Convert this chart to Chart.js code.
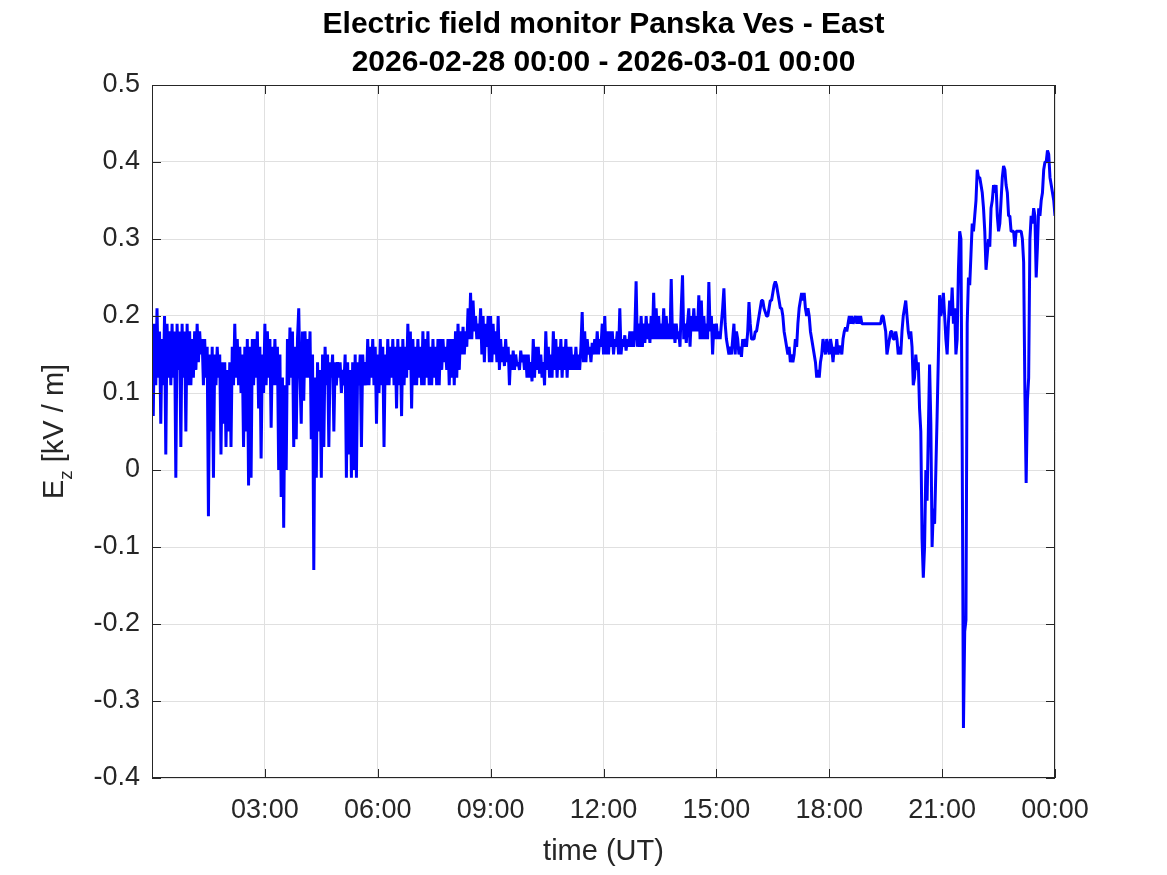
<!DOCTYPE html>
<html>
<head>
<meta charset="utf-8">
<title>Electric field monitor Panska Ves - East</title>
<script src="https://cdn.jsdelivr.net/npm/chart.js@4.4.1/dist/chart.umd.min.js"></script>
<style>
  html, body { margin: 0; padding: 0; background: #fff; }
  #chart { display: block; }
</style>
</head>
<body>
<canvas id="chart" width="1167" height="875"></canvas>
<script>
// one sample every 2 minutes, 2026-02-28 00:00 .. 2026-03-01 00:00 (UT)
const stepMinutes = 2;

// Ez [kV/m], one row per hour (30 samples)
const fieldValues = [
  0.17, 0.07, 0.19, 0.11, 0.21, 0.12, 0.18, 0.06, 0.17, 0.11, 0.20, 0.02, 0.19, 0.12, 0.18, 0.11, 0.19, 0.12, 0.18, -0.01, 0.19, 0.13, 0.18, 0.03, 0.19, 0.12, 0.18, 0.05, 0.19, 0.11,
  0.18, 0.11, 0.17, 0.12, 0.18, 0.13, 0.19, 0.14, 0.18, 0.15, 0.17, 0.11, 0.17, 0.12, 0.16, -0.06, 0.15, 0.05, 0.16, -0.01, 0.15, 0.11, 0.16, 0.12, 0.15, 0.02, 0.14, 0.06, 0.14, 0.03,
  0.13, 0.05, 0.14, 0.03, 0.16, 0.11, 0.19, 0.12, 0.17, 0.11, 0.16, 0.10, 0.15, 0.03, 0.16, 0.05, 0.17, -0.02, 0.16, -0.01, 0.17, 0.11, 0.17, 0.12, 0.18, 0.08, 0.16, 0.015, 0.15, 0.10,
  0.19, 0.11, 0.18, 0.12, 0.17, 0.055, 0.16, 0.11, 0.17, 0.11, 0.16, 0.00, 0.15, -0.035, 0.12, -0.075, 0.11, 0.00, 0.17, 0.11, 0.185, 0.12, 0.18, 0.03, 0.16, 0.04, 0.17, 0.21, 0.12, 0.06,
  0.18, 0.09, 0.18, 0.12, 0.17, 0.12, 0.18, 0.04, 0.15, -0.13, 0.12, -0.01, 0.14, 0.05, 0.13, -0.01, 0.15, 0.03, 0.16, 0.11, 0.15, 0.03, 0.14, 0.12, 0.15, 0.05, 0.14, 0.11, 0.14, 0.12,
  0.14, 0.10, 0.13, 0.11, 0.15, -0.01, 0.14, 0.02, 0.13, -0.01, 0.14, 0.00, 0.15, -0.01, 0.14, 0.11, 0.15, 0.03, 0.15, 0.11, 0.14, 0.11, 0.17, 0.11, 0.16, 0.12, 0.17, 0.11, 0.16, 0.06,
  0.15, 0.10, 0.17, 0.11, 0.16, 0.03, 0.15, 0.11, 0.17, 0.11, 0.16, 0.12, 0.17, 0.11, 0.16, 0.08, 0.17, 0.11, 0.16, 0.07, 0.17, 0.11, 0.16, 0.12, 0.19, 0.13, 0.18, 0.08, 0.17, 0.11,
  0.16, 0.11, 0.17, 0.12, 0.16, 0.11, 0.18, 0.11, 0.17, 0.12, 0.18, 0.11, 0.16, 0.11, 0.17, 0.12, 0.16, 0.11, 0.17, 0.11, 0.17, 0.13, 0.17, 0.14, 0.16, 0.13, 0.17, 0.11, 0.17, 0.12,
  0.17, 0.11, 0.18, 0.12, 0.19, 0.13, 0.18, 0.15, 0.186, 0.15, 0.18, 0.16, 0.21, 0.17, 0.23, 0.17, 0.22, 0.18, 0.20, 0.17, 0.19, 0.17, 0.21, 0.15, 0.20, 0.14, 0.19, 0.16, 0.20, 0.14,
  0.20, 0.14, 0.19, 0.15, 0.18, 0.14, 0.20, 0.13, 0.17, 0.14, 0.16, 0.135, 0.17, 0.14, 0.16, 0.11, 0.15, 0.13, 0.155, 0.13, 0.15, 0.135, 0.14, 0.13, 0.155, 0.14, 0.15, 0.13, 0.15, 0.12,
  0.15, 0.12, 0.14, 0.115, 0.17, 0.12, 0.16, 0.13, 0.16, 0.125, 0.15, 0.12, 0.14, 0.11, 0.18, 0.13, 0.16, 0.12, 0.15, 0.12, 0.18, 0.13, 0.17, 0.12, 0.16, 0.13, 0.17, 0.12, 0.16, 0.13,
  0.17, 0.12, 0.16, 0.13, 0.16, 0.13, 0.15, 0.13, 0.16, 0.13, 0.15, 0.13, 0.16, 0.205, 0.14, 0.18, 0.14, 0.17, 0.15, 0.16, 0.14, 0.165, 0.15, 0.17, 0.15, 0.18, 0.15, 0.17, 0.16, 0.19,
  0.15, 0.20, 0.15, 0.18, 0.15, 0.18, 0.16, 0.18, 0.15, 0.17, 0.16, 0.18, 0.15, 0.21, 0.15, 0.17, 0.16, 0.175, 0.155, 0.17, 0.16, 0.18, 0.16, 0.18, 0.16, 0.18, 0.245, 0.16, 0.19, 0.16,
  0.20, 0.16, 0.19, 0.165, 0.20, 0.17, 0.19, 0.165, 0.20, 0.17, 0.23, 0.17, 0.21, 0.17, 0.20, 0.17, 0.19, 0.17, 0.21, 0.17, 0.20, 0.17, 0.19, 0.17, 0.248, 0.17, 0.19, 0.165, 0.19, 0.17,
  0.18, 0.16, 0.21, 0.253, 0.17, 0.19, 0.165, 0.19, 0.21, 0.16, 0.20, 0.18, 0.21, 0.18, 0.20, 0.18, 0.227, 0.17, 0.22, 0.17, 0.20, 0.17, 0.19, 0.17, 0.244, 0.18, 0.20, 0.15, 0.19, 0.17,
  0.19, 0.17, 0.18, 0.17, 0.19, 0.21, 0.236, 0.19, 0.17, 0.16, 0.15, 0.16, 0.15, 0.17, 0.19, 0.15, 0.18, 0.17, 0.15, 0.16, 0.147, 0.17, 0.16, 0.17, 0.16, 0.18, 0.218, 0.19, 0.17, 0.17,
  0.17, 0.18, 0.18, 0.19, 0.20, 0.21, 0.22, 0.22, 0.21, 0.205, 0.20, 0.20, 0.21, 0.22, 0.22, 0.23, 0.24, 0.245, 0.24, 0.23, 0.22, 0.21, 0.21, 0.20, 0.18, 0.17, 0.16, 0.15, 0.16, 0.14,
  0.15, 0.14, 0.15, 0.17, 0.16, 0.19, 0.21, 0.22, 0.23, 0.22, 0.23, 0.21, 0.20, 0.21, 0.20, 0.18, 0.17, 0.16, 0.15, 0.14, 0.12, 0.13, 0.12, 0.14, 0.15, 0.17, 0.16, 0.15, 0.17, 0.16,
  0.15, 0.17, 0.16, 0.14, 0.16, 0.15, 0.17, 0.15, 0.16, 0.16, 0.15, 0.17, 0.18, 0.185, 0.18, 0.19, 0.20, 0.19, 0.20, 0.19, 0.195, 0.20, 0.19, 0.20, 0.19, 0.20, 0.19, 0.19, 0.19, 0.19,
  0.19, 0.19, 0.19, 0.19, 0.19, 0.19, 0.19, 0.19, 0.19, 0.19, 0.19, 0.19, 0.20, 0.20, 0.19, 0.18, 0.15, 0.16, 0.17, 0.18, 0.18, 0.17, 0.17, 0.18, 0.17, 0.15, 0.16, 0.15, 0.18, 0.20,
  0.21, 0.22, 0.20, 0.18, 0.17, 0.18, 0.16, 0.11, 0.12, 0.15, 0.13, 0.14, 0.08, 0.05, -0.09, -0.14, -0.10, 0.00, -0.04, 0.05, 0.137, 0.06, -0.10, -0.05, -0.07, 0.00, 0.07, 0.147, 0.227, 0.20,
  0.21, 0.23, 0.20, 0.17, 0.15, 0.19, 0.22, 0.20, 0.237, 0.19, 0.21, 0.15, 0.17, 0.26, 0.31, 0.30, 0.03, -0.335, -0.21, -0.195, 0.19, 0.25, 0.24, 0.28, 0.32, 0.31, 0.33, 0.35, 0.39, 0.38,
  0.38, 0.37, 0.36, 0.34, 0.31, 0.26, 0.28, 0.30, 0.29, 0.34, 0.35, 0.37, 0.36, 0.37, 0.33, 0.31, 0.32, 0.35, 0.38, 0.395, 0.39, 0.37, 0.36, 0.33, 0.33, 0.31, 0.31, 0.31, 0.29, 0.31,
  0.31, 0.31, 0.31, 0.31, 0.30, 0.27, 0.10, -0.017, 0.09, 0.12, 0.30, 0.33, 0.32, 0.34, 0.33, 0.25, 0.29, 0.34, 0.33, 0.35, 0.36, 0.39, 0.40, 0.40, 0.415, 0.41, 0.38, 0.37, 0.36, 0.35,
  0.33
];

const xTickHours = [3, 6, 9, 12, 15, 18, 21, 24];
const xTickLabels = ['03:00', '06:00', '09:00', '12:00', '15:00', '18:00', '21:00', '00:00'];
const yTickValues = [-0.4, -0.3, -0.2, -0.1, 0, 0.1, 0.2, 0.3, 0.4, 0.5];
const yTickLabels = ['-0.4', '-0.3', '-0.2', '-0.1', '0', '0.1', '0.2', '0.3', '0.4', '0.5'];

const titleLines = ['Electric field monitor Panska Ves - East', '2026-02-28 00:00 - 2026-03-01 00:00'];

const FONT = '"Liberation Sans", Arial, Helvetica, sans-serif';
const AXIS_COLOR = '#262626';

const points = fieldValues.map((v, i) => ({ x: i * stepMinutes / 60, y: v }));

// box around the axes, inward tick marks on all four sides and the E_z label
const framePlugin = {
  id: 'frame',
  afterDraw(chart) {
    const { ctx, chartArea: a, scales: { x, y } } = chart;
    const tickLen = 9;
    ctx.save();
    ctx.strokeStyle = AXIS_COLOR;
    ctx.lineWidth = 1;
    ctx.strokeRect(a.left + 0.5, a.top + 0.5, a.right - a.left - 1, a.bottom - a.top - 1);

    ctx.beginPath();
    xTickHours.forEach(h => {
      const px = Math.round(x.getPixelForValue(h)) + 0.5;
      ctx.moveTo(px, a.bottom); ctx.lineTo(px, a.bottom - tickLen);
      ctx.moveTo(px, a.top); ctx.lineTo(px, a.top + tickLen);
    });
    yTickValues.forEach(v => {
      const py = Math.round(y.getPixelForValue(v)) + 0.5;
      ctx.moveTo(a.left, py); ctx.lineTo(a.left + tickLen, py);
      ctx.moveTo(a.right, py); ctx.lineTo(a.right - tickLen, py);
    });
    ctx.stroke();

    // y label with subscript
    const mainFont = '29px ' + FONT;
    const subFont = '19px ' + FONT;
    ctx.fillStyle = AXIS_COLOR;
    ctx.font = mainFont;
    const wE = ctx.measureText('E').width;
    const wRest = ctx.measureText(' [kV / m]').width;
    ctx.font = subFont;
    const wZ = ctx.measureText('z').width;
    const total = wE + wZ + wRest;
    ctx.translate(63, (a.top + a.bottom) / 2);
    ctx.rotate(-Math.PI / 2);
    ctx.textBaseline = 'alphabetic';
    ctx.textAlign = 'left';
    let cx = -total / 2;
    ctx.font = mainFont;
    ctx.fillText('E', cx, 0);
    cx += wE;
    ctx.font = subFont;
    ctx.fillText('z', cx, 9);
    cx += wZ;
    ctx.font = mainFont;
    ctx.fillText(' [kV / m]', cx, 0);
    ctx.restore();
  }
};

new Chart(document.getElementById('chart'), {
  type: 'line',
  data: {
    datasets: [{
      data: points,
      borderColor: '#0000ff',
      borderWidth: 3,
      borderJoinStyle: 'bevel',
      pointRadius: 0,
      tension: 0,
      fill: false
    }]
  },
  options: {
    responsive: false,
    animation: false,
    devicePixelRatio: 1,
    layout: { padding: { top: 0, right: 112, bottom: 0, left: 0 } },
    plugins: {
      legend: { display: false },
      tooltip: { enabled: false },
      title: {
        display: true,
        fullSize: false,
        text: titleLines,
        color: '#000',
        font: { family: FONT, size: 30, weight: 'bold', lineHeight: 38 / 30 },
        padding: { top: 6, bottom: 3 }
      }
    },
    scales: {
      x: {
        type: 'linear',
        min: 0,
        max: 24,
        afterBuildTicks: scale => { scale.ticks = xTickHours.map(v => ({ value: v })); },
        afterFit: scale => { scale.height = 97; },
        border: { display: false },
        grid: { color: '#e0e0e0', lineWidth: 1, drawTicks: false },
        ticks: {
          autoSkip: false,
          maxRotation: 0,
          padding: 16,
          color: AXIS_COLOR,
          font: { family: FONT, size: 27 },
          callback: value => xTickLabels[xTickHours.indexOf(value)]
        },
        title: {
          display: true,
          text: 'time (UT)',
          color: AXIS_COLOR,
          font: { family: FONT, size: 29 },
          padding: { top: 0, bottom: 6 }
        }
      },
      y: {
        type: 'linear',
        min: -0.4,
        max: 0.5,
        afterBuildTicks: scale => { scale.ticks = yTickValues.map(v => ({ value: v })); },
        afterFit: scale => { scale.width = 152; },
        border: { display: false },
        grid: { color: '#e0e0e0', lineWidth: 1, drawTicks: false },
        ticks: {
          padding: 12,
          color: AXIS_COLOR,
          font: { family: FONT, size: 27 },
          callback: value => yTickLabels[yTickValues.findIndex(v => Math.abs(v - value) < 1e-9)]
        }
      }
    }
  },
  plugins: [framePlugin]
});
</script>
</body>
</html>
